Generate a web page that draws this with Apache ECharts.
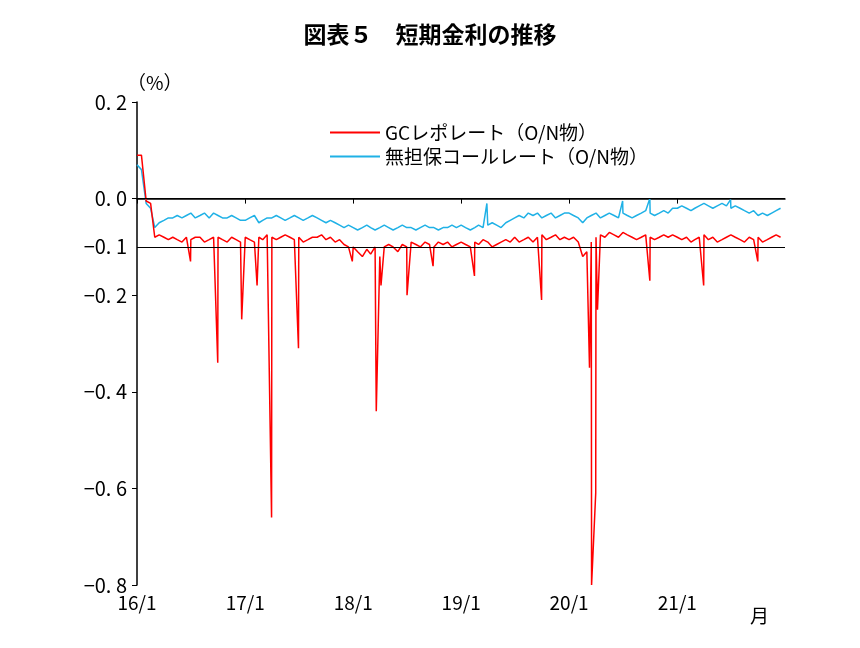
<!DOCTYPE html>
<html><head><meta charset="utf-8">
<script src="https://cdn.jsdelivr.net/npm/echarts@6/dist/echarts.min.js"></script>
<style>html,body{margin:0;background:#fff}#c{width:860px;height:648px}</style>
</head><body><div id="c"></div>
<script>
// semi-monthly values (1st and 16th of each month), Jan 2016 - Dec 2021
const gcRepo = [
 0.09,0.09,-0.005,-0.01,-0.08,-0.075,-0.08,-0.085,-0.08,-0.085,-0.09,-0.08,-0.085,-0.08,-0.08,-0.09,-0.085,-0.08,-0.08,-0.085,-0.09,-0.08,-0.085,-0.09,
 -0.08,-0.085,-0.09,-0.08,-0.085,-0.075,-0.08,-0.085,-0.08,-0.075,-0.08,-0.085,-0.08,-0.09,-0.085,-0.08,-0.08,-0.075,-0.085,-0.08,-0.09,-0.085,-0.095,-0.1,
 -0.1,-0.11,-0.12,-0.105,-0.115,-0.1,-0.12,-0.1,-0.095,-0.1,-0.11,-0.095,-0.1,-0.09,-0.095,-0.1,-0.09,-0.095,-0.1,-0.09,-0.095,-0.09,-0.1,-0.095,
 -0.09,-0.095,-0.1,-0.09,-0.095,-0.085,-0.09,-0.1,-0.095,-0.09,-0.085,-0.09,-0.08,-0.09,-0.085,-0.08,-0.09,-0.08,-0.075,-0.085,-0.08,-0.075,-0.085,-0.08,
 -0.085,-0.08,-0.09,-0.12,-0.11,-0.09,-0.08,-0.075,-0.08,-0.07,-0.075,-0.08,-0.07,-0.075,-0.08,-0.085,-0.08,-0.075,-0.08,-0.085,-0.08,-0.075,-0.08,-0.075,
 -0.08,-0.085,-0.08,-0.09,-0.085,-0.08,-0.075,-0.085,-0.08,-0.09,-0.085,-0.08,-0.075,-0.08,-0.085,-0.09,-0.08,-0.085,-0.08,-0.09,-0.085,-0.08,-0.075,-0.08
];
const callRate = [
 0.07,0.06,-0.01,-0.02,-0.06,-0.05,-0.045,-0.04,-0.04,-0.035,-0.04,-0.035,-0.03,-0.04,-0.035,-0.03,-0.04,-0.03,-0.035,-0.04,-0.04,-0.035,-0.04,-0.045,
 -0.045,-0.04,-0.035,-0.05,-0.045,-0.04,-0.04,-0.035,-0.04,-0.045,-0.04,-0.035,-0.04,-0.045,-0.04,-0.035,-0.04,-0.045,-0.05,-0.045,-0.05,-0.055,-0.06,-0.055,
 -0.06,-0.065,-0.06,-0.055,-0.06,-0.065,-0.06,-0.055,-0.06,-0.065,-0.06,-0.055,-0.06,-0.06,-0.065,-0.06,-0.055,-0.06,-0.06,-0.065,-0.06,-0.06,-0.055,-0.06,
 -0.055,-0.06,-0.065,-0.06,-0.055,-0.06,-0.055,-0.05,-0.055,-0.06,-0.05,-0.045,-0.04,-0.035,-0.04,-0.03,-0.035,-0.03,-0.04,-0.035,-0.03,-0.04,-0.035,-0.03,
 -0.03,-0.035,-0.04,-0.05,-0.04,-0.035,-0.03,-0.04,-0.035,-0.03,-0.035,-0.04,-0.03,-0.035,-0.04,-0.035,-0.03,-0.025,-0.03,-0.035,-0.03,-0.025,-0.03,-0.02,
 -0.02,-0.015,-0.02,-0.025,-0.02,-0.015,-0.01,-0.015,-0.02,-0.015,-0.01,-0.015,-0.02,-0.015,-0.02,-0.025,-0.03,-0.025,-0.035,-0.03,-0.035,-0.03,-0.025,-0.02
];
const gcSpikes = [['2016-09-30',-0.34],['2016-12-20',-0.25],['2017-02-10',-0.18],['2017-03-31',-0.66],['2017-06-30',-0.31],
 ['2018-03-20',-0.44],['2018-04-05',-0.18],['2018-07-02',-0.2],['2019-02-15',-0.16],['2019-09-30',-0.21],
 ['2020-03-10',-0.35],['2020-03-17',-0.8],['2020-03-31',-0.61],['2020-04-06',-0.23],['2020-09-30',-0.17],['2021-03-31',-0.18],
 ['2016-06-30',-0.13],['2017-12-29',-0.13],['2018-09-28',-0.14],['2021-09-30',-0.13]];
const callSpikes = [['2019-03-29',-0.01],['2020-06-30',-0.005],['2020-09-30',0.0],['2021-06-30',-0.002]];
const refLines = [0, -0.1];

function build(vals, spikes){
  const out = vals.map((v,i)=>[Date.UTC(2016, Math.floor(i/2), i%2?16:1), v]);
  spikes.forEach(s=>out.push([Date.parse(s[0]+'T00:00:00Z'), s[1]]));
  out.sort((a,b)=>a[0]-b[0]);
  return out;
}
const font = '"Noto Sans CJK JP"';
const fmt = v => (v<0?'−':'')+Math.abs(v).toFixed(1).replace('.', '. ');
const chart = echarts.init(document.getElementById('c'));
chart.setOption({
  animation:false,
  textStyle:{fontFamily:font},
  title:{text:'図表５　短期金利の推移',left:'center',top:18,textStyle:{fontSize:23,fontWeight:'bold',color:'#000',fontFamily:font}},
  legend:{top:118,left:325,orient:'vertical',itemGap:5,itemWidth:50,itemHeight:2,icon:'rect',
    textStyle:{fontSize:19,color:'#000'},
    data:['GCレポレート（O/N物）','無担保コールレート（O/N物）']},
  graphic:[{type:'text',left:750,top:606,style:{text:'月',fontSize:19,fill:'#000',fontFamily:font}}],
  grid:{left:137,right:75,top:102,bottom:63},
  xAxis:{type:'time',min:Date.UTC(2016,0,1),max:Date.UTC(2021,11,31),
    interval:365.25*86400000,
    axisLine:{lineStyle:{color:'#000',width:1.5}},axisTick:{show:true,lineStyle:{color:'#000'}},splitLine:{show:false},
    axisLabel:{fontSize:19,color:'#000',hideOverlap:false,formatter:v=>{const d=new Date(v);return d.getUTCMonth()===0?String(d.getUTCFullYear()).slice(2)+'/1':'';}}},
  yAxis:{type:'value',min:-0.8,max:0.2,interval:0.2,
    name:'（%）',nameGap:4,nameTextStyle:{fontSize:19,color:'#000',align:'left',padding:[0,0,0,-10]},
    axisLine:{show:true,lineStyle:{color:'#000',width:1.5}},axisTick:{show:true,lineStyle:{color:'#000'}},splitLine:{show:false},
    axisLabel:{fontSize:20,color:'#000',margin:10,formatter:fmt}},
  series:[
    {name:'GCレポレート（O/N物）',type:'line',showSymbol:false,color:'#ff0000',lineStyle:{width:1.5},data:build(gcRepo,gcSpikes),z:3,
     markLine:{silent:true,symbol:'none',lineStyle:{color:'#000',type:'solid',width:1.2},
       data:refLines.map(y=>({yAxis:y,label:{show:y!==0,position:'start',distance:10,formatter:fmt(y),fontSize:20,color:'#000'}}))}},
    {name:'無担保コールレート（O/N物）',type:'line',showSymbol:false,color:'#1fb1e6',lineStyle:{width:1.5},data:build(callRate,callSpikes),z:2}
  ]
});
</script></body></html>
